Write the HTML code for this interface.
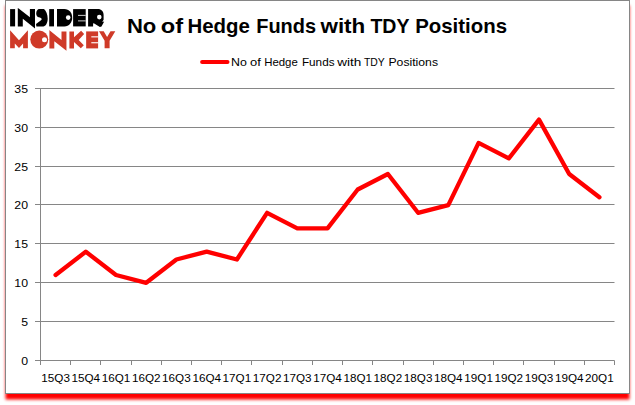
<!DOCTYPE html>
<html><head><meta charset="utf-8"><title>chart</title>
<style>
html,body{margin:0;padding:0;background:#fff;}
body{width:635px;height:405px;overflow:hidden;position:relative;font-family:"Liberation Sans",sans-serif;}
svg{position:absolute;left:0;top:0;font-family:"Liberation Sans",sans-serif;}
</style></head><body>
<svg width="635" height="405" viewBox="0 0 635 405">
<defs><filter id="sh" x="-5%" y="-5%" width="110%" height="110%"><feGaussianBlur stdDeviation="1.5"/></filter></defs>
<rect x="5.5" y="5.5" width="624" height="394" fill="#ff0000" filter="url(#sh)"/>
<rect x="5.5" y="0.5" width="624" height="393" fill="#ffffff" stroke="#868686" stroke-width="1"/>
<line x1="35.0" y1="360.5" x2="614.5" y2="360.5" stroke="#868686" stroke-width="1"/>
<text transform="translate(28.0,365.1) scale(1.09,1)" x="0" y="0" text-anchor="end" font-size="11.3" fill="#000">0</text>
<line x1="35.0" y1="321.5" x2="614.5" y2="321.5" stroke="#868686" stroke-width="1"/>
<text transform="translate(28.0,326.1) scale(1.09,1)" x="0" y="0" text-anchor="end" font-size="11.3" fill="#000">5</text>
<line x1="35.0" y1="282.5" x2="614.5" y2="282.5" stroke="#868686" stroke-width="1"/>
<text transform="translate(28.0,287.1) scale(1.09,1)" x="0" y="0" text-anchor="end" font-size="11.3" fill="#000">10</text>
<line x1="35.0" y1="243.5" x2="614.5" y2="243.5" stroke="#868686" stroke-width="1"/>
<text transform="translate(28.0,248.1) scale(1.09,1)" x="0" y="0" text-anchor="end" font-size="11.3" fill="#000">15</text>
<line x1="35.0" y1="204.5" x2="614.5" y2="204.5" stroke="#868686" stroke-width="1"/>
<text transform="translate(28.0,209.1) scale(1.09,1)" x="0" y="0" text-anchor="end" font-size="11.3" fill="#000">20</text>
<line x1="35.0" y1="166.5" x2="614.5" y2="166.5" stroke="#868686" stroke-width="1"/>
<text transform="translate(28.0,171.1) scale(1.09,1)" x="0" y="0" text-anchor="end" font-size="11.3" fill="#000">25</text>
<line x1="35.0" y1="127.5" x2="614.5" y2="127.5" stroke="#868686" stroke-width="1"/>
<text transform="translate(28.0,132.1) scale(1.09,1)" x="0" y="0" text-anchor="end" font-size="11.3" fill="#000">30</text>
<line x1="35.0" y1="88.5" x2="614.5" y2="88.5" stroke="#868686" stroke-width="1"/>
<text transform="translate(28.0,93.1) scale(1.09,1)" x="0" y="0" text-anchor="end" font-size="11.3" fill="#000">35</text>
<line x1="40.5" y1="88.5" x2="40.5" y2="365.0" stroke="#868686" stroke-width="1"/>
<line x1="70.5" y1="360.5" x2="70.5" y2="365.0" stroke="#868686" stroke-width="1"/>
<line x1="100.5" y1="360.5" x2="100.5" y2="365.0" stroke="#868686" stroke-width="1"/>
<line x1="131.5" y1="360.5" x2="131.5" y2="365.0" stroke="#868686" stroke-width="1"/>
<line x1="161.5" y1="360.5" x2="161.5" y2="365.0" stroke="#868686" stroke-width="1"/>
<line x1="191.5" y1="360.5" x2="191.5" y2="365.0" stroke="#868686" stroke-width="1"/>
<line x1="221.5" y1="360.5" x2="221.5" y2="365.0" stroke="#868686" stroke-width="1"/>
<line x1="251.5" y1="360.5" x2="251.5" y2="365.0" stroke="#868686" stroke-width="1"/>
<line x1="282.5" y1="360.5" x2="282.5" y2="365.0" stroke="#868686" stroke-width="1"/>
<line x1="312.5" y1="360.5" x2="312.5" y2="365.0" stroke="#868686" stroke-width="1"/>
<line x1="342.5" y1="360.5" x2="342.5" y2="365.0" stroke="#868686" stroke-width="1"/>
<line x1="372.5" y1="360.5" x2="372.5" y2="365.0" stroke="#868686" stroke-width="1"/>
<line x1="403.5" y1="360.5" x2="403.5" y2="365.0" stroke="#868686" stroke-width="1"/>
<line x1="433.5" y1="360.5" x2="433.5" y2="365.0" stroke="#868686" stroke-width="1"/>
<line x1="463.5" y1="360.5" x2="463.5" y2="365.0" stroke="#868686" stroke-width="1"/>
<line x1="493.5" y1="360.5" x2="493.5" y2="365.0" stroke="#868686" stroke-width="1"/>
<line x1="523.5" y1="360.5" x2="523.5" y2="365.0" stroke="#868686" stroke-width="1"/>
<line x1="554.5" y1="360.5" x2="554.5" y2="365.0" stroke="#868686" stroke-width="1"/>
<line x1="584.5" y1="360.5" x2="584.5" y2="365.0" stroke="#868686" stroke-width="1"/>
<line x1="614.5" y1="360.5" x2="614.5" y2="365.0" stroke="#868686" stroke-width="1"/>
<text x="55.6" y="382.1" text-anchor="middle" font-size="11.3" textLength="28.6" lengthAdjust="spacingAndGlyphs" fill="#000">15Q3</text>
<text x="85.8" y="382.1" text-anchor="middle" font-size="11.3" textLength="28.6" lengthAdjust="spacingAndGlyphs" fill="#000">15Q4</text>
<text x="116.0" y="382.1" text-anchor="middle" font-size="11.3" textLength="28.6" lengthAdjust="spacingAndGlyphs" fill="#000">16Q1</text>
<text x="146.2" y="382.1" text-anchor="middle" font-size="11.3" textLength="28.6" lengthAdjust="spacingAndGlyphs" fill="#000">16Q2</text>
<text x="176.4" y="382.1" text-anchor="middle" font-size="11.3" textLength="28.6" lengthAdjust="spacingAndGlyphs" fill="#000">16Q3</text>
<text x="206.7" y="382.1" text-anchor="middle" font-size="11.3" textLength="28.6" lengthAdjust="spacingAndGlyphs" fill="#000">16Q4</text>
<text x="236.9" y="382.1" text-anchor="middle" font-size="11.3" textLength="28.6" lengthAdjust="spacingAndGlyphs" fill="#000">17Q1</text>
<text x="267.1" y="382.1" text-anchor="middle" font-size="11.3" textLength="28.6" lengthAdjust="spacingAndGlyphs" fill="#000">17Q2</text>
<text x="297.3" y="382.1" text-anchor="middle" font-size="11.3" textLength="28.6" lengthAdjust="spacingAndGlyphs" fill="#000">17Q3</text>
<text x="327.5" y="382.1" text-anchor="middle" font-size="11.3" textLength="28.6" lengthAdjust="spacingAndGlyphs" fill="#000">17Q4</text>
<text x="357.7" y="382.1" text-anchor="middle" font-size="11.3" textLength="28.6" lengthAdjust="spacingAndGlyphs" fill="#000">18Q1</text>
<text x="387.9" y="382.1" text-anchor="middle" font-size="11.3" textLength="28.6" lengthAdjust="spacingAndGlyphs" fill="#000">18Q2</text>
<text x="418.1" y="382.1" text-anchor="middle" font-size="11.3" textLength="28.6" lengthAdjust="spacingAndGlyphs" fill="#000">18Q3</text>
<text x="448.3" y="382.1" text-anchor="middle" font-size="11.3" textLength="28.6" lengthAdjust="spacingAndGlyphs" fill="#000">18Q4</text>
<text x="478.6" y="382.1" text-anchor="middle" font-size="11.3" textLength="28.6" lengthAdjust="spacingAndGlyphs" fill="#000">19Q1</text>
<text x="508.8" y="382.1" text-anchor="middle" font-size="11.3" textLength="28.6" lengthAdjust="spacingAndGlyphs" fill="#000">19Q2</text>
<text x="539.0" y="382.1" text-anchor="middle" font-size="11.3" textLength="28.6" lengthAdjust="spacingAndGlyphs" fill="#000">19Q3</text>
<text x="569.2" y="382.1" text-anchor="middle" font-size="11.3" textLength="28.6" lengthAdjust="spacingAndGlyphs" fill="#000">19Q4</text>
<text x="599.4" y="382.1" text-anchor="middle" font-size="11.3" textLength="28.6" lengthAdjust="spacingAndGlyphs" fill="#000">20Q1</text>
<polyline points="55.6,275.0 85.8,251.7 116.0,275.0 146.2,282.8 176.4,259.5 206.7,251.7 236.9,259.5 267.1,212.8 297.3,228.4 327.5,228.4 357.7,189.5 387.9,174.0 418.1,212.8 448.3,205.1 478.6,142.9 508.8,158.4 539.0,119.6 569.2,174.0 599.4,197.3" fill="none" stroke="#ff0000" stroke-width="4.3" stroke-linejoin="round" stroke-linecap="round"/>
<line x1="202.1" y1="61.9" x2="227.5" y2="61.9" stroke="#ff0000" stroke-width="4" stroke-linecap="round"/>
<text x="230.95" y="65.8" font-size="11.6" textLength="15.86" lengthAdjust="spacingAndGlyphs" fill="#000">No</text>
<text x="250.0" y="65.8" font-size="11.6" textLength="10.8" lengthAdjust="spacingAndGlyphs" fill="#000">of</text>
<text x="264.21" y="65.8" font-size="11.6" textLength="33.59" lengthAdjust="spacingAndGlyphs" fill="#000">Hedge</text>
<text x="301.95" y="65.8" font-size="11.6" textLength="32.6" lengthAdjust="spacingAndGlyphs" fill="#000">Funds</text>
<text x="337.2" y="65.8" font-size="11.6" textLength="24.08" lengthAdjust="spacingAndGlyphs" fill="#000">with</text>
<text x="363.96" y="65.8" font-size="11.6" textLength="20.82" lengthAdjust="spacingAndGlyphs" fill="#000">TDY</text>
<text x="388.45" y="65.8" font-size="11.6" textLength="49.59" lengthAdjust="spacingAndGlyphs" fill="#000">Positions</text>
<text x="126.91" y="32.7" font-size="21" font-weight="bold" textLength="29.42" lengthAdjust="spacingAndGlyphs" fill="#000">No</text>
<text x="160.72" y="32.7" font-size="21" font-weight="bold" textLength="22.33" lengthAdjust="spacingAndGlyphs" fill="#000">of</text>
<text x="187.44" y="32.7" font-size="21" font-weight="bold" textLength="62.36" lengthAdjust="spacingAndGlyphs" fill="#000">Hedge</text>
<text x="256.19" y="32.7" font-size="21" font-weight="bold" textLength="59.87" lengthAdjust="spacingAndGlyphs" fill="#000">Funds</text>
<text x="320.45" y="32.7" font-size="21" font-weight="bold" textLength="44.84" lengthAdjust="spacingAndGlyphs" fill="#000">with</text>
<text x="370.45" y="32.7" font-size="21" font-weight="bold" textLength="39.08" lengthAdjust="spacingAndGlyphs" fill="#000">TDY</text>
<text x="415.19" y="32.7" font-size="21" font-weight="bold" textLength="91.86" lengthAdjust="spacingAndGlyphs" fill="#000">Positions</text>
<g id="logo">
<g fill="#000">
<rect x="10.1" y="9.1" width="5" height="17.3"/>
<path d="M17.8 8.1 L17.8 26.4 L22.8 26.4 L22.8 18.7 L35 28.5 L35 9.1 L29.9 9.1 L29.9 17.3 L19 8.7 Z"/>
<path d="M38.8 9.1 L44.0 9.1 C46.2 11 47.7 14.6 47.7 18.7 C47.7 23 45.6 26.4 43.3 26.4 L36.4 26.4 L36.0 24.0 L40.7 20.6 C41.7 19.9 42.0 18.9 41.2 18.2 C40.4 17.6 39.6 17.5 38.6 17.3 C37 16.9 36.1 15 36.2 13.2 C36.5 11 37.4 9.7 38.8 9.1 Z"/>
<rect x="49.2" y="9.1" width="4.8" height="17.3"/>
<path d="M57 9.1 L64.3 9.1 C69.2 9.1 72.2 13 72.2 17.75 C72.2 22.5 69.2 26.4 64.3 26.4 L57 26.4 Z"/>
<rect x="73.1" y="9.1" width="12.6" height="17.3"/>
<path d="M88.1 9.1 L97.8 9.1 C101.4 9.1 103.6 11.6 103.6 15 L103.6 19.8 L102.3 22 L104.2 21.5 L101.5 26.4 L99.9 27 L93.8 23.2 L93.1 23.5 L93.1 26.4 L88.1 26.4 Z"/>
</g>
<g fill="#fff">
<circle cx="68.2" cy="17.6" r="2.3"/>
<circle cx="99.3" cy="17.1" r="2.3"/>
<rect x="78" y="14.9" width="7.7" height="0.8"/>
<rect x="78" y="20.5" width="7.7" height="0.8"/>
</g>
<g fill="#cf3a28">
<path d="M10.1 48.3 L10.1 30.2 L19 40.2 L27.9 30.2 L27.9 48.3 L23.1 48.3 L23.1 43.4 L19 48.1 L14.8 43.4 L14.8 48.3 Z"/>
<circle cx="39.25" cy="39.6" r="9"/>
<path d="M49.4 30.1 L49.4 48.4 L54.3 48.4 L54.3 41.3 L66.45 50.8 L66.45 31.4 L61.5 31.4 L61.5 39.9 L50.4 31 Z"/>
<path d="M69.4 31.4 L74 31.4 L74 37.2 L81.1 30.8 L84.1 33.9 L78.7 39.9 L83.8 45.2 L80.8 48.2 L74 41.9 L74 48.4 L69.4 48.4 Z"/>
<rect x="86.15" y="31.4" width="11.95" height="17"/>
<path d="M99 31.3 L103.7 31.3 L107.1 36.9 L110.5 31.3 L115.3 31.3 L109.6 40.7 L109.6 48.2 L104.6 48.2 L104.6 40.7 Z"/>
</g>
<g fill="#fff">
<circle cx="44.5" cy="39.7" r="2.5"/>
<rect x="91.3" y="36.3" width="7" height="1.1"/>
<rect x="91.3" y="42.2" width="7" height="1.1"/>
</g>
</g>

</svg>
</body></html>
